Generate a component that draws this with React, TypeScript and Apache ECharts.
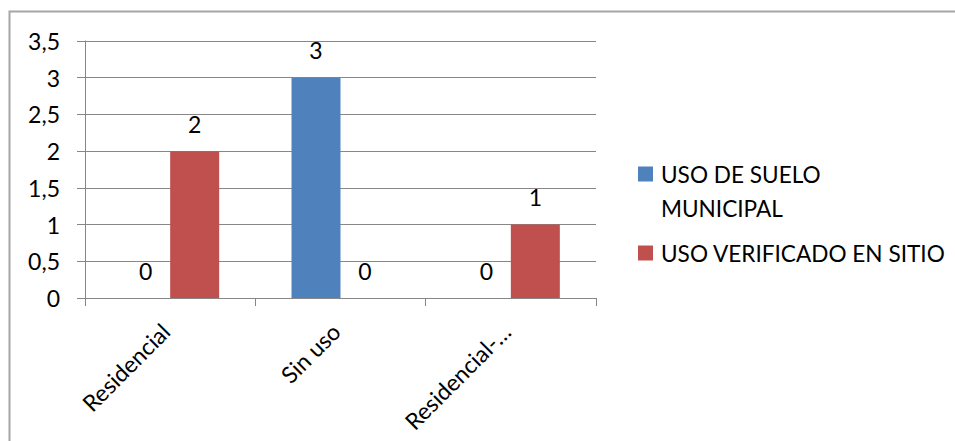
import React, { useEffect, useRef } from "react";
import * as echarts from "echarts";

const categories = ["Residencial", "Sin uso", "Residencial-…"];
const seriesNames = ["USO DE SUELO MUNICIPAL", "USO VERIFICADO EN SITIO"];
const municipal = [0, 3, 0];
const verificado = [2, 0, 1];
const yTicks = { min: 0, max: 3.5, interval: 0.5 };

const FONT = "Lato";
const FS = 23;
const LEGEND_FS = 22.6;
const GRID_COLOR = "#878787";

export default function App() {
  const ref = useRef<HTMLDivElement>(null);
  useEffect(() => {
    if (!ref.current) return;
    const chart = echarts.init(ref.current, null, { renderer: "svg" });
    const fmt = (v: number) => String(v).replace(".", ",");
    const labelStyle = {
      show: true,
      position: "top",
      distance: 16,
      color: "#000",
      fontFamily: FONT,
      fontSize: FS,
      formatter: (p: any) => fmt(p.value),
    };
    const legendText = {
      fontFamily: FONT,
      fontSize: LEGEND_FS,
      color: "#000",
      lineHeight: 34,
      padding: [0, 0, 0, 3],
      rich: {
        a: { fontFamily: FONT, fontSize: LEGEND_FS, color: "#000", lineHeight: 34 },
      },
    };
    chart.setOption({
      animation: false,
      backgroundColor: "#fff",
      textStyle: { fontFamily: FONT },
      graphic: [
        {
          type: "rect",
          shape: { x: 9.5, y: 11.5, width: 1000, height: 1000 },
          style: { fill: "none", stroke: "#a6a6a6", lineWidth: 2 },
          silent: true,
        },
      ],
      grid: { left: 85, right: 359, top: 41, bottom: 143, containLabel: false },
      legend: [
        {
          data: [seriesNames[0]],
          left: 638,
          top: 123,
          padding: 0,
          itemWidth: 15,
          itemHeight: 15,
          icon: "rect",
          formatter: () => "{a| }\n{a|USO DE SUELO}\n{a|MUNICIPAL}",
          textStyle: legendText,
        },
        {
          data: [seriesNames[1]],
          left: 638,
          top: 236,
          padding: 0,
          itemWidth: 15,
          itemHeight: 15,
          icon: "rect",
          textStyle: legendText,
        },
      ],
      xAxis: {
        type: "category",
        data: categories,
        axisLine: { lineStyle: { color: GRID_COLOR, width: 1 } },
        axisTick: { show: true, length: 8, lineStyle: { color: GRID_COLOR } },
        axisLabel: {
          rotate: 45,
          margin: 34,
          align: "right",
          verticalAlign: "bottom",
          lineHeight: 13,
          color: "#000",
          fontFamily: FONT,
          fontSize: FS,
          interval: 0,
        },
      },
      yAxis: {
        type: "value",
        min: yTicks.min,
        max: yTicks.max,
        interval: yTicks.interval,
        axisLine: { show: true, lineStyle: { color: GRID_COLOR, width: 1 } },
        axisTick: { show: true, length: 8, lineStyle: { color: GRID_COLOR } },
        splitLine: { show: true, lineStyle: { color: GRID_COLOR, width: 1 } },
        axisLabel: {
          margin: 25,
          color: "#000",
          fontFamily: FONT,
          fontSize: FS,
          formatter: fmt,
        },
      },
      series: [
        {
          name: seriesNames[0],
          type: "bar",
          data: municipal,
          barWidth: 49,
          barGap: "0%",
          itemStyle: { color: "#4F81BD" },
          label: labelStyle,
        },
        {
          name: seriesNames[1],
          type: "bar",
          data: verificado,
          barWidth: 49,
          barGap: "0%",
          itemStyle: { color: "#C0504D" },
          label: labelStyle,
        },
      ],
    });
    return () => chart.dispose();
  }, []);
  return (
    <div
      ref={ref}
      style={{ position: "fixed", left: 0, top: 0, width: 955, height: 441 }}
    />
  );
}
